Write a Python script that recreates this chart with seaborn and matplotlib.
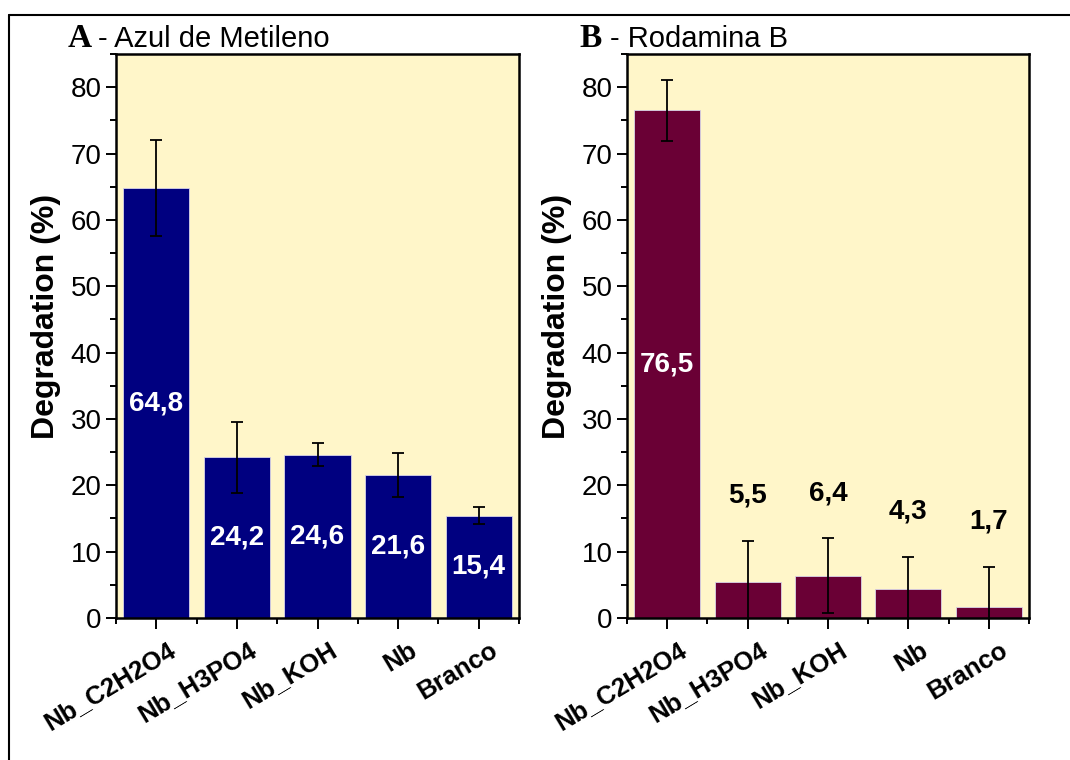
import matplotlib
matplotlib.use("Agg")
import matplotlib.pyplot as plt
from matplotlib.lines import Line2D
from matplotlib.ticker import MultipleLocator, FixedLocator
import matplotlib.transforms as mtransforms
import seaborn as sns
import pandas as pd

# Catalyst samples and photodegradation results (%)
samples = ["Nb_C2H2O4", "Nb_H3PO4", "Nb_KOH", "Nb", "Branco"]
mb_values = [64.8, 24.2, 24.6, 21.6, 15.4]
mb_errors = [7.3, 5.4, 1.7, 3.3, 1.3]
rb_values = [76.5, 5.5, 6.4, 4.3, 1.7]
rb_errors = [4.6, 6.1, 5.6, 4.9, 6.0]

sns.set_style("ticks")
plt.rcParams["font.family"] = ["Liberation Sans", "DejaVu Sans"]
plt.rcParams.update({
    "text.color": "black",
    "axes.labelcolor": "black",
    "xtick.color": "black",
    "ytick.color": "black",
})

W, H = 1070, 760
fig = plt.figure(figsize=(W / 100, H / 100), dpi=100)

panel_bg = "#FFF6C9"


def px_rect(left, top, right, bottom):
    return [left / W, 1 - bottom / H, (right - left) / W, (bottom - top) / H]


def draw_panel(ax, values, errors, color, inside_labels):
    df = pd.DataFrame({"sample": samples, "value": values})
    sns.barplot(data=df, x="sample", y="value", color=color, saturation=1,
                width=0.82, errorbar=None, ax=ax, edgecolor="#d8d4e8",
                linewidth=0.6, zorder=2)
    ax.errorbar(range(len(samples)), values, yerr=errors, fmt="none",
                ecolor="black", elinewidth=1.3, capsize=4.5, capthick=1.3,
                zorder=3)
    ax.set_facecolor(panel_bg)
    ax.set_xlim(-0.5, len(samples) - 0.5)
    ax.set_ylim(0, 85)
    ax.yaxis.set_major_locator(MultipleLocator(10))
    ax.yaxis.set_minor_locator(MultipleLocator(5))
    ax.xaxis.set_minor_locator(FixedLocator([i - 0.5 for i in range(len(samples) + 1)]))
    ax.set_xlabel("")
    ax.set_ylabel("Degradation (%)", fontsize=23, fontweight="bold")
    ax.yaxis.set_label_coords(-0.136, 0.534)
    ax.tick_params(axis="both", which="major", direction="out", length=7,
                   width=1.4, labelsize=20, color="black")
    ax.tick_params(axis="both", which="minor", direction="out", length=4,
                   width=1.4, color="black")
    ax.tick_params(axis="x", which="major", length=8, pad=4)
    shift = mtransforms.ScaledTranslation(11 / 100, -3 / 100, fig.dpi_scale_trans)
    for lab in ax.get_xticklabels():
        lab.set_rotation(31)
        lab.set_ha("right")
        lab.set_rotation_mode("anchor")
        lab.set_fontweight("bold")
        lab.set_fontsize(18.5)
        lab.set_transform(lab.get_transform() + shift)
    for sp in ax.spines.values():
        sp.set_visible(True)
        sp.set_linewidth(1.8)
        sp.set_color("black")
    for i, (v, e) in enumerate(zip(values, errors)):
        txt = f"{v:.1f}".replace(".", ",")
        if inside_labels[i]:
            ax.text(i, v / 2, txt, ha="center", va="center", color="white",
                    fontsize=20, fontweight="bold", zorder=4)
        else:
            ax.text(i, v + e + 6.8, txt, ha="center", va="center",
                    color="black", fontsize=20, fontweight="bold", zorder=4)


ax_a = fig.add_axes(px_rect(116, 54, 519, 618))
ax_b = fig.add_axes(px_rect(627, 54, 1029, 618))

draw_panel(ax_a, mb_values, mb_errors, "#000080", [True] * 5)
draw_panel(ax_b, rb_values, rb_errors, "#6A0035", [True, False, False, False, False])

# Panel titles: serif bold letter followed by sans caption
ty = 1 - 47 / H
fig.text(68 / W, ty, "A", family="Liberation Serif", fontweight="bold",
         fontsize=24, va="baseline", ha="left")
fig.text(98 / W, ty, "- Azul de Metileno", fontsize=21, va="baseline", ha="left")
fig.text(579 / W, ty, "B", family="Liberation Serif", fontweight="bold",
         fontsize=24, va="baseline", ha="left")
fig.text(610 / W, ty, "- Rodamina B", fontsize=21, va="baseline", ha="left")

# Outer frame (left and top edges)
bx, by = 9 / W, 1 - 15 / H
fig.add_artist(Line2D([bx, bx], [0, by], transform=fig.transFigure,
                      color="black", linewidth=1.5))
fig.add_artist(Line2D([bx, 1], [by, by], transform=fig.transFigure,
                      color="black", linewidth=1.5))

fig.savefig("out.png", dpi=100, facecolor="white")
